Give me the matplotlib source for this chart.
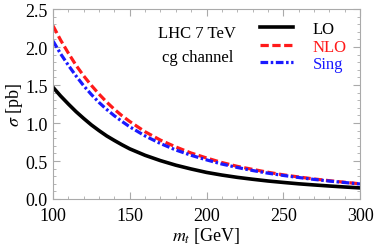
import matplotlib
matplotlib.use("Agg")
from matplotlib import pyplot as plt
from matplotlib.ticker import MultipleLocator, FormatStrFormatter

# masa del top (GeV) y secciones eficaces (pb)
m_top = [100, 105, 110, 115, 120, 125, 130, 135, 140, 145, 150,
         160, 170, 180, 190, 200, 210, 220, 230, 240, 250,
         260, 270, 280, 290, 300]
sigma_lo = [1.47, 1.355, 1.25, 1.15, 1.06, 0.975, 0.90, 0.83, 0.77, 0.713, 0.66,
            0.575, 0.505, 0.445, 0.395, 0.35, 0.315, 0.285, 0.26, 0.237, 0.218,
            0.20, 0.185, 0.171, 0.158, 0.146]
sigma_nlo = [2.28, 2.09, 1.92, 1.76, 1.62, 1.495, 1.38, 1.275, 1.18, 1.095, 1.02,
             0.885, 0.775, 0.685, 0.605, 0.54, 0.48, 0.43, 0.39, 0.352, 0.318,
             0.29, 0.264, 0.241, 0.22, 0.20]
sigma_sing = [2.08, 1.91, 1.76, 1.62, 1.49, 1.375, 1.27, 1.178, 1.095, 1.02, 0.95,
              0.83, 0.73, 0.645, 0.575, 0.515, 0.46, 0.415, 0.375, 0.34, 0.31,
              0.283, 0.258, 0.236, 0.217, 0.198]

plt.rcParams['font.family'] = ['Liberation Serif', 'DejaVu Serif']
plt.rcParams['mathtext.fontset'] = 'stix'

fig = plt.figure(figsize=(3.74, 2.51), dpi=100)
ax = fig.add_axes([0.1417, 0.2032, 0.8209, 0.7568])

ax.plot(m_top, sigma_lo, color='black', lw=2.6, label='LO')
ax.plot(m_top, sigma_nlo, color='#ff1a1a', lw=2.3, dashes=(2.6, 1.1), label='NLO')
ax.plot(m_top, sigma_sing, color='#1a1aff', lw=2.3, dashes=(2.4, 0.8, 0.8, 0.8), label='Sing')

ax.set_xlim(100, 300)
ax.set_ylim(0, 2.5)
ax.xaxis.set_major_locator(MultipleLocator(50))
ax.xaxis.set_minor_locator(MultipleLocator(10))
ax.yaxis.set_major_locator(MultipleLocator(0.5))
ax.yaxis.set_minor_locator(MultipleLocator(0.1))
ax.yaxis.set_major_formatter(FormatStrFormatter('%.1f'))

for s in ax.spines.values():
    s.set_color('#aaaaaa')
ax.tick_params(which='both', direction='in', top=True, right=True, color='#aaaaaa',
               labelsize=13, labelcolor='black')
ax.tick_params(which='major', length=5, width=0.8)
ax.tick_params(which='minor', length=2.5, width=0.6)
ax.tick_params(axis='x', pad=6)
ax.tick_params(axis='y', pad=4)

ax.set_xlabel('$m_t$ [GeV]', fontsize=13, va='center')
ax.xaxis.set_label_coords(0.5, -0.19)
ax.set_ylabel('$\\sigma$ [pb]', fontsize=13, va='center')
ax.yaxis.set_label_coords(-0.125, 0.5)

ax.text(0.47, 0.875, 'LHC 7 TeV', transform=ax.transAxes, fontsize=12, ha='center', va='center')
ax.text(0.47, 0.745, 'cg channel', transform=ax.transAxes, fontsize=12, ha='center', va='center')

leg = ax.legend(loc='upper right', bbox_to_anchor=(0.99, 0.99), frameon=False, fontsize=12,
                handlelength=2.0, handletextpad=1.2, labelspacing=0.1, borderaxespad=0.2)
for txt, c in zip(leg.get_texts(), ['black', '#ff1a1a', '#1a1aff']):
    txt.set_color(c)

fig.savefig('out.png', dpi=100)
